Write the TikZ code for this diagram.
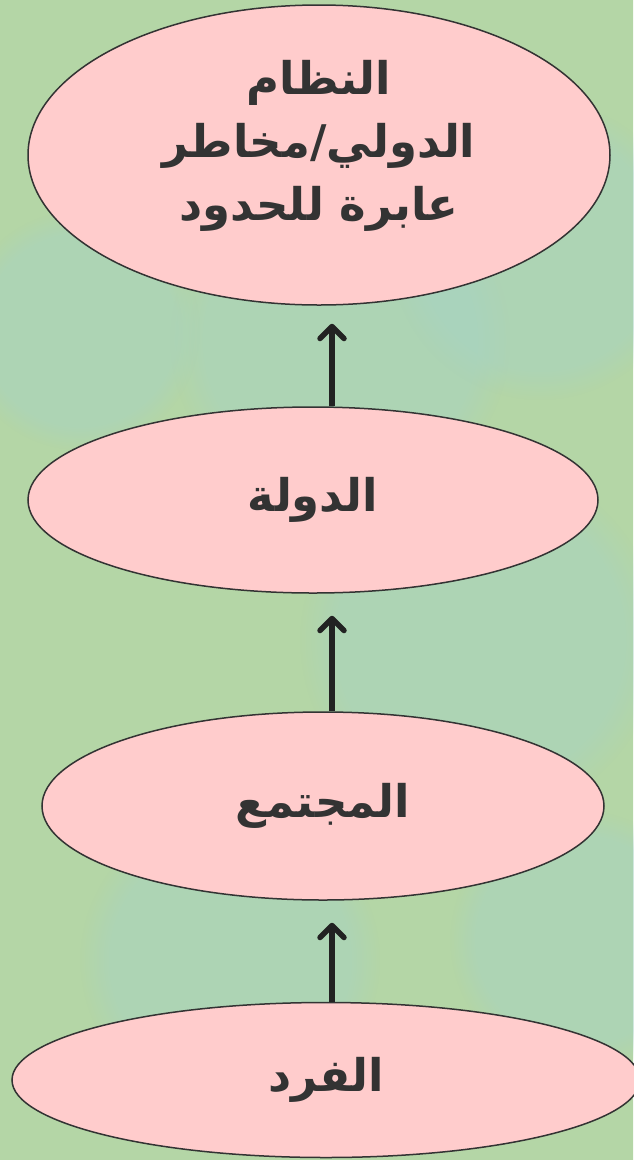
\documentclass[tikz,border=0pt]{standalone}
\usepackage{fontspec}
\newfontfamily\arabicfont[Script=Arabic]{DejaVu Sans}
\TeXXeTstate=1
\usetikzlibrary{shapes.geometric,arrows.meta,fadings}
\definecolor{bgA}{RGB}{180,214,166}
\definecolor{bgB}{RGB}{166,210,198}
\definecolor{bgC}{RGB}{188,218,165}
\definecolor{pinkfill}{RGB}{255,204,204}
\definecolor{inkdark}{RGB}{51,51,51}
\definecolor{arrdark}{RGB}{34,34,34}
\tikzset{
  lvl/.style={ellipse, draw=inkdark, line width=1.5pt, fill=pinkfill, inner sep=0pt,
    text=inkdark, font=\arabicfont\bfseries\fontsize{45}{63}\selectfont, align=center},
  blob/.style={fill=bgB, path fading=circle with fuzzy edge 20 percent, opacity=0.45},
  arr/.style={draw=arrdark, line width=5.5pt, -{Straight Barb[length=12pt,width=24pt,line width=5.5pt,round]}}
}
\begin{document}
\begin{tikzpicture}[x=1pt,y=-1pt]
\useasboundingbox (0,0) rectangle (633,1160);
\shade[top color=bgA, middle color=bgC, bottom color=bgA] (0,0) rectangle (633,1160);
\fill[blob] (340,340) circle (170pt);
\fill[blob] (540,250) circle (150pt);
\fill[blob] (480,640) circle (180pt);
\fill[blob] (80,330) circle (120pt);
\fill[blob] (230,960) circle (150pt);
\fill[blob] (580,940) circle (130pt);
\coordinate (axis) at (332,0);
\node[lvl, minimum width=582pt, minimum height=300pt] (n1) at (319,155) {};
\node[text=inkdark, font=\arabicfont\bfseries\fontsize{45}{63}\selectfont, align=center] (t1) at (319,146)
  {\beginR النظام\endR\\\beginR الدولي/مخاطر\endR\\\beginR عابرة للحدود\endR};
\node[lvl, minimum width=570pt, minimum height=186pt] (n2) at (313,500) {\beginR الدولة\endR};
\node[lvl, minimum width=562pt, minimum height=188pt] (n3) at (323,806) {\beginR المجتمع\endR};
\node[lvl, minimum width=628pt, minimum height=155pt] (n4) at (326,1080) {\beginR الفرد\endR};
\draw[arr, shorten >=18pt] (axis |- n2.north) -- (axis |- n1.south);
\draw[arr, shorten >=22pt] (axis |- n3.north) -- (axis |- n2.south);
\draw[arr, shorten >=22pt] (axis |- n4.north) -- (axis |- n3.south);
\end{tikzpicture}
\end{document}
